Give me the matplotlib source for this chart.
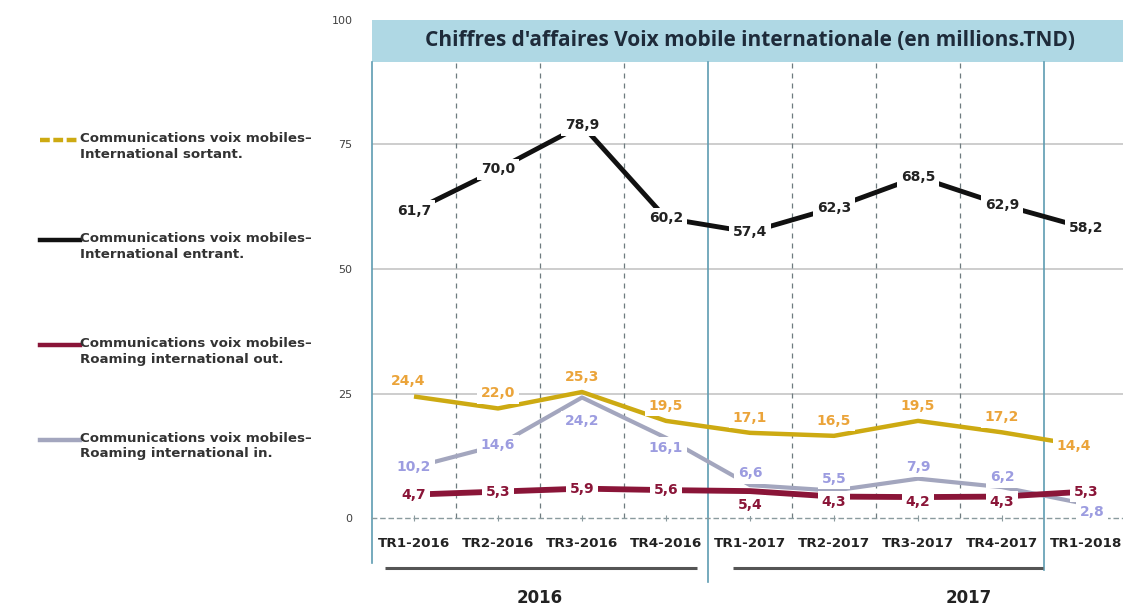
import matplotlib
matplotlib.use("Agg")
import matplotlib.pyplot as plt
from matplotlib.lines import Line2D

categories = ["TR1-2016", "TR2-2016", "TR3-2016", "TR4-2016", "TR1-2017",
              "TR2-2017", "TR3-2017", "TR4-2017", "TR1-2018"]
sortant = [24.4, 22.0, 25.3, 19.5, 17.1, 16.5, 19.5, 17.2, 14.4]
entrant = [61.7, 70.0, 78.9, 60.2, 57.4, 62.3, 68.5, 62.9, 58.2]
roaming_out = [4.7, 5.3, 5.9, 5.6, 5.4, 4.3, 4.2, 4.3, 5.3]
roaming_in = [10.2, 14.6, 24.2, 16.1, 6.6, 5.5, 7.9, 6.2, 2.8]
series_names = ["Communications voix mobiles–\nInternational sortant.",
                "Communications voix mobiles–\nInternational entrant.",
                "Communications voix mobiles–\nRoaming international out.",
                "Communications voix mobiles–\nRoaming international in."]
yticks = [0, 25, 50, 75, 100]
title = "Chiffres d'affaires Voix mobile internationale (en millions.TND)"
years = ["2016", "2017"]

C_GOLD = "#CDAA12"
C_GOLD_TXT = "#EBA43A"
C_BLACK = "#111111"
C_MAROON = "#8A1538"
C_GREY = "#A3A6BE"
C_GREY_TXT = "#9C9CE0"
C_BAND = "#AFD8E4"
C_VLINE = "#5E9CB2"

fig = plt.figure(figsize=(11.23, 6.05), dpi=100)
W, H = 1123, 605
ax = fig.add_axes([372 / W, 87 / H, 756 / W, 498 / H])
x = list(range(len(categories)))
ax.set_xlim(-0.5, len(categories) - 0.5)
ax.set_ylim(0, 100)

band_low = 91.6
ax.axhspan(band_low, 100, color=C_BAND, zorder=0, lw=0)
ax.text(4, (band_low + 100) / 2, title, ha="center", va="center",
        fontsize=15, fontweight="bold", color="#1E2B3A", family="Open Sans")

for g in [25, 50, 75]:
    ax.axhline(g, color="#C9C9C9", lw=1.3, zorder=1)

# vertical separators
for i in range(len(categories) - 1):
    xv = i + 0.5
    if i in (3, 7):
        continue
    ax.plot([xv, xv], [0, band_low], color="#6E7B7F", lw=0.9,
            ls=(0, (4, 4)), zorder=1)
for xv, ylow in [(-0.5, -9.0), (3.5, -12.8), (7.5, -10.4)]:
    ax.plot([xv, xv], [ylow, band_low], color=C_VLINE, lw=1.2, zorder=1,
            clip_on=False)

# series
ax.plot(x, roaming_in, color=C_GREY, lw=3.0, zorder=3, solid_capstyle="butt")
ax.plot(x, sortant, color=C_GOLD, lw=3.2, zorder=2, solid_capstyle="butt")
ax.plot(x, entrant, color=C_BLACK, lw=3.5, zorder=3, solid_capstyle="butt")
ax.plot(x, roaming_out, color=C_MAROON, lw=4.2, zorder=3, solid_capstyle="butt")

def fmt(v):
    return f"{v:.1f}".replace(".", ",")

bbox = dict(boxstyle="square,pad=0.25", fc="white", ec="none")
lab_kw = dict(fontsize=10, fontweight="bold", ha="center", va="center",
              zorder=5, bbox=bbox)
for xi, v in zip(x, entrant):
    ax.annotate(fmt(v), (xi, v), xytext=(0, 0), textcoords="offset pixels",
                color="#222222", **lab_kw)
for xi, v in zip(x, sortant):
    dx = -6 if xi == 0 else (-12 if xi == 8 else 0)
    dy = 0 if xi == 8 else 15
    ax.annotate(fmt(v), (xi, v), xytext=(dx, dy), textcoords="offset pixels",
                color=C_GOLD_TXT, **lab_kw)
in_dy = {2: -24, 3: -10, 4: 12, 5: 12, 6: 12, 7: 10, 8: -8}
for xi, v in zip(x, roaming_in):
    dx = 6 if xi == 8 else 0
    ax.annotate(fmt(v), (xi, v), xytext=(dx, in_dy.get(xi, 0)),
                textcoords="offset pixels", color=C_GREY_TXT, **lab_kw)
out_dy = {4: -14, 5: -5, 6: -5, 7: -5}
for xi, v in zip(x, roaming_out):
    ax.annotate(fmt(v), (xi, v), xytext=(0, out_dy.get(xi, 0)),
                textcoords="offset pixels", color=C_MAROON, **lab_kw)

# axes styling
for s in ["top", "right", "left"]:
    ax.spines[s].set_visible(False)
ax.spines["bottom"].set_color("#8A9A9E")
ax.spines["bottom"].set_linestyle((0, (3, 3)))
ax.spines["bottom"].set_linewidth(1.0)
ax.set_yticks(yticks)
ax.set_yticklabels([str(t) for t in yticks], fontsize=8, color="#404040")
ax.tick_params(axis="y", length=0, pad=14)
ax.set_xticks(x)
ax.set_xticklabels(categories, fontsize=9.7, fontweight="bold", color="#222222")
ax.tick_params(axis="x", length=4, color="#8A9A9E", direction="inout", pad=12)

# year groups
for (a, b), name, lx in [((-0.35, 3.37), years[0], 1.5),
                         ((3.80, 7.49), years[1], 6.6)]:
    ax.plot([a, b], [-10, -10], color="#555555", lw=2.2, clip_on=False,
            solid_capstyle="butt")
    ax.text(lx, -16, name, ha="center", va="center", fontsize=12,
            fontweight="bold", color="#222222", clip_on=False)

# legend on the left
leg = [(C_GOLD, (0, (2.2, 0.8)), 140), (C_BLACK, "-", 240),
       (C_MAROON, "-", 345), (C_GREY, "-", 440)]
for (col, ls, ypx), name in zip(leg, series_names):
    yf = 1 - ypx / H
    fig.add_artist(Line2D([40 / W, 80 / W], [yf, yf], color=col, lw=3.2,
                          ls=ls, transform=fig.transFigure))
    fig.text(80 / W, yf + 8 / H, name, fontsize=9.6, fontweight="bold",
             color="#333333", va="top", ha="left", linespacing=1.25)

fig.savefig("out.png", dpi=100)
